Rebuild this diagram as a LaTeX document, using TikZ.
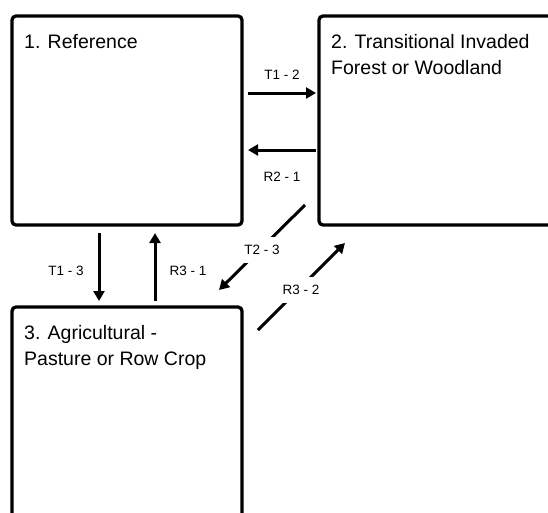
\documentclass[tikz,border=0pt]{standalone}
\usepackage{fontspec}
\setmainfont{Liberation Sans}
\usetikzlibrary{arrows.meta}
\begin{document}
\begin{tikzpicture}[x=1pt,y=-1pt,
  box/.style={draw=black, line width=3.3pt, rounded corners=4pt, inner sep=0pt, outer sep=0pt},
  boxtext/.style={anchor=base west, align=left, inner sep=0pt, font=\fontsize{19.5}{26}\selectfont},
  arr/.style={line width=3pt, -{Triangle[length=10pt,width=11pt]}},
  lbl/.style={font=\fontsize{13.5}{16}\selectfont, inner sep=0pt},
  dlbl/.style={lbl, fill=white, minimum height=26pt, inner xsep=3pt}]
\useasboundingbox (0,0) rectangle (548,512);
\clip (0,0) rectangle (548,512);
% boxes
\node[box, minimum width=230pt, minimum height=209pt] (b1) at (127,120.5) {};
\node[box, minimum width=261pt, minimum height=209pt] (b2) at (449.5,120.5) {};
\node[box, minimum width=230pt, minimum height=233pt] (b3) at (127,423.5) {};
% box texts (base anchor = baseline of the last line)
\node[boxtext] (t1) at (24,48) {1. Reference};
\node[boxtext] (t2) at (331,74) {2. Transitional Invaded\\Forest or Woodland};
\node[boxtext] (t3) at (24,365) {3. Agricultural -\\Pasture or Row Crop};
% connector end points
\coordinate (p12s) at (248,93);  \coordinate (p12e) at (316,93);
\coordinate (p21s) at (316,150); \coordinate (p21e) at (248,150);
\coordinate (p13s) at (99,233);  \coordinate (p13e) at (99,301);
\coordinate (p31s) at (155,301); \coordinate (p31e) at (155,233);
\coordinate (p23s) at (305,205); \coordinate (p23e) at (219,290);
\coordinate (p32s) at (258,330); \coordinate (p32e) at (345,243);
% connectors
\draw[arr] (p12s) -- (p12e);
\draw[arr] (p21s) -- (p21e);
\draw[arr] (p13s) -- (p13e);
\draw[arr] (p31s) -- (p31e);
\draw[arr] (p23s) -- (p23e);
\draw[arr] (p32s) -- (p32e);
% labels
\node[lbl] (l12) at (282,75) {T1 - 2};
\node[lbl] (l21) at (282,177) {R2 - 1};
\node[lbl] (l13) at (66,271) {T1 - 3};
\node[lbl] (l31) at (188,271) {R3 - 1};
\node[dlbl] (l23) at (262,250) {T2 - 3};
\node[dlbl] (l32) at (301,290) {R3 - 2};
\end{tikzpicture}
\end{document}
